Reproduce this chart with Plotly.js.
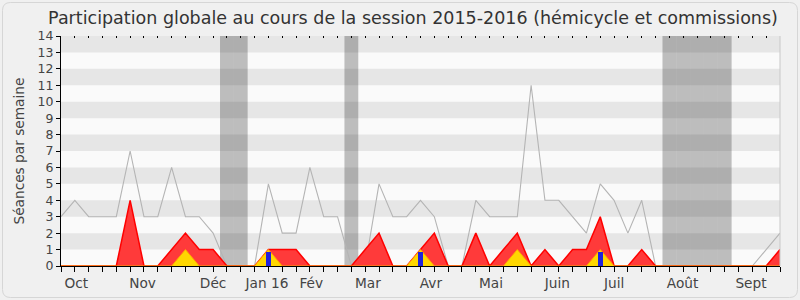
<!DOCTYPE html>
<html>
<head>
<meta charset="utf-8">
<script src="https://cdn.plot.ly/plotly-3.0.1.min.js"></script>
<style>html,body{margin:0;padding:0;background:#f0f0f0;}#chart{width:800px;height:300px;}</style>
</head>
<body>
<div id="chart"></div>
<script>
// Weekly data (week index 0 = first week of October 2015)
const weeks = Array.from({length: 53}, (_, i) => i);
// gray line: median presence
const medianPresence = [3,4,3,3,3,7,3,3,6,3,3,2,0,0,0,5,2,2,6,3,3,0,0,5,3,3,4,3,0,0,4,3,3,3,11,4,4,3,2,5,4,2,4,0,0,0,0,0,0,0,0,1,2];
// red area: presence (hémicycle + commissions)
const presence = [0,0,0,0,0,4,0,0,1,2,1,1,0,0,0,1,1,1,0,0,0,0,1,2,0,0,1,2,0,0,2,0,1,2,0,1,0,1,1,3,0,0,1,0,0,0,0,0,0,0,0,0,1];
// yellow area: interventions
const interventions = [0,0,0,0,0,0,0,0,0,1,0,0,0,0,0,1,0,0,0,0,0,0,0,0,0,0,1,0,0,0,0,0,0,1,0,0,0,0,0,1,0,0,0,0,0,0,0,0,0,0,0,0,0];
// blue bars: questions
const questionWeeks = [15, 26, 39];
const questionValues = [0.87, 0.87, 0.87];
// vacation weeks
const vacationWeeks = [12, 13, 21, 44, 45, 46, 47, 48];
// month labels
const monthLabels = ['Oct','Nov','Déc','Jan 16','Fév','Mar','Avr','Mai','Juin','Juil','Août','Sept'];
const monthPos = [1.1, 5.9, 11.0, 14.9, 18.1, 22.2, 26.75, 31.1, 35.9, 40.0, 44.95, 49.9];
const yTicks = [0,1,2,3,4,5,6,7,8,9,10,11,12,13,14];

const FONT = 'DejaVu Sans, Verdana, sans-serif';
const L = 61, R = 780, T = 36, B = 266, W = 800, H = 300;
const px = x => (x - L) / (R - L);
const py = y => (B - y) / (B - T);

const shapes = [];
// alternating horizontal bands
for (let k = 1; k < 14; k += 2) {
  shapes.push({type: 'rect', xref: 'paper', yref: 'y', x0: 0, x1: 1, y0: k, y1: k + 1,
    fillcolor: '#e6e6e6', line: {width: 0}, layer: 'below'});
}
// vacation weeks
vacationWeeks.forEach(w => {
  shapes.push({type: 'rect', xref: 'x', yref: 'y', x0: w - 0.5, x1: w + 0.5, y0: 0, y1: 14,
    fillcolor: 'rgba(0,0,0,0.245)', line: {width: 0}, layer: 'below'});
});
// right border of plot
shapes.push({type: 'line', xref: 'paper', yref: 'paper', x0: 1, x1: 1, y0: 0, y1: 1,
  line: {color: '#c8c8c8', width: 1}});
// outer rounded frame
(function () {
  const x0 = 2.5, x1 = 797.5, y0 = 2.5, y1 = 297.5, r = 8;
  const P = (x, y) => px(x) + ',' + py(y);
  const path = 'M' + P(x0 + r, y0) + ' L' + P(x1 - r, y0) + ' Q' + P(x1, y0) + ' ' + P(x1, y0 + r) +
    ' L' + P(x1, y1 - r) + ' Q' + P(x1, y1) + ' ' + P(x1 - r, y1) +
    ' L' + P(x0 + r, y1) + ' Q' + P(x0, y1) + ' ' + P(x0, y1 - r) +
    ' L' + P(x0, y0 + r) + ' Q' + P(x0, y0) + ' ' + P(x0 + r, y0) + ' Z';
  shapes.push({type: 'path', xref: 'paper', yref: 'paper', path: path,
    line: {color: '#d6d6d6', width: 1}, fillcolor: 'rgba(0,0,0,0)', layer: 'below'});
})();

const traces = [
  {x: weeks, y: medianPresence, type: 'scatter', mode: 'lines',
   line: {color: '#b4b4b4', width: 1.1}, hoverinfo: 'skip'},
  {x: weeks, y: presence, type: 'scatter', mode: 'lines', fill: 'tozeroy',
   fillcolor: '#ff3a3a', line: {color: '#ff0000', width: 1.5}, hoverinfo: 'skip'},
  {x: weeks, y: interventions, type: 'scatter', mode: 'lines', fill: 'tozeroy',
   fillcolor: '#ffd700', line: {color: '#ffa500', width: 1}, hoverinfo: 'skip'},
  // questions drawn on an overlaid y axis so they sit above the areas
  {x: questionWeeks, y: questionValues, type: 'bar', width: 0.36, yaxis: 'y2',
   marker: {color: '#2222dd', line: {width: 0}}, hoverinfo: 'skip'},
  // invisible traces to activate label and top axes
  {x: [0, 52], y: [0, 0], xaxis: 'x2', type: 'scatter', mode: 'none', hoverinfo: 'skip'},
  {x: [0, 52], y: [0, 0], xaxis: 'x3', type: 'scatter', mode: 'none', hoverinfo: 'skip'}
];

const layout = {
  width: W, height: H,
  margin: {l: L, r: W - R, t: T, b: H - B, pad: 0},
  paper_bgcolor: '#f0f0f0', plot_bgcolor: '#fafafa',
  showlegend: false,
  font: {family: FONT, color: '#333'},
  title: {text: 'Participation globale au cours de la session 2015-2016 (hémicycle et commissions)',
    font: {family: FONT, size: 17.5, color: '#333'},
    x: 413 / W, xanchor: 'center', xref: 'container', y: 1 - 18 / H, yanchor: 'middle', yref: 'container'},
  xaxis: {range: [0, 52], tickvals: weeks, ticktext: weeks.map(() => ''), ticks: 'outside', ticklen: 5,
    tickcolor: '#000', tickwidth: 1, showline: true, linecolor: '#000', linewidth: 1,
    showgrid: false, zeroline: false, fixedrange: true},
  xaxis2: {overlaying: 'x', side: 'bottom', range: [0, 52], tickvals: monthPos, ticktext: monthLabels,
    ticks: 'outside', ticklen: 5, tickcolor: 'rgba(0,0,0,0)', showline: false, showgrid: false,
    zeroline: false, tickfont: {family: FONT, size: 13.7, color: '#444'}, fixedrange: true},
  xaxis3: {overlaying: 'x', side: 'top', range: [0, 52], tickvals: weeks, ticktext: weeks.map(() => ''),
    ticks: 'inside', ticklen: 2, tickcolor: '#000', showline: false, showgrid: false, zeroline: false, fixedrange: true},
  yaxis: {range: [0, 14], tickvals: yTicks, ticks: 'outside', ticklen: 4, tickcolor: '#000',
    showline: true, linecolor: '#000', linewidth: 1, showgrid: false, zeroline: false,
    tickfont: {family: FONT, size: 12.5, color: '#444'}, fixedrange: true},
  yaxis2: {overlaying: 'y', range: [0, 14], showticklabels: false, ticks: '', showline: false,
    showgrid: false, zeroline: false, fixedrange: true},
  bargap: 0,
  shapes: shapes,
  annotations: [{text: 'Séances par semaine', textangle: -90, xref: 'paper', yref: 'paper',
    x: px(18.5), y: py(151), xanchor: 'center', yanchor: 'middle', showarrow: false,
    font: {family: FONT, size: 13.7, color: '#444'}}]
};

Plotly.newPlot('chart', traces, layout, {staticPlot: true, displayModeBar: false});
</script>
</body>
</html>
